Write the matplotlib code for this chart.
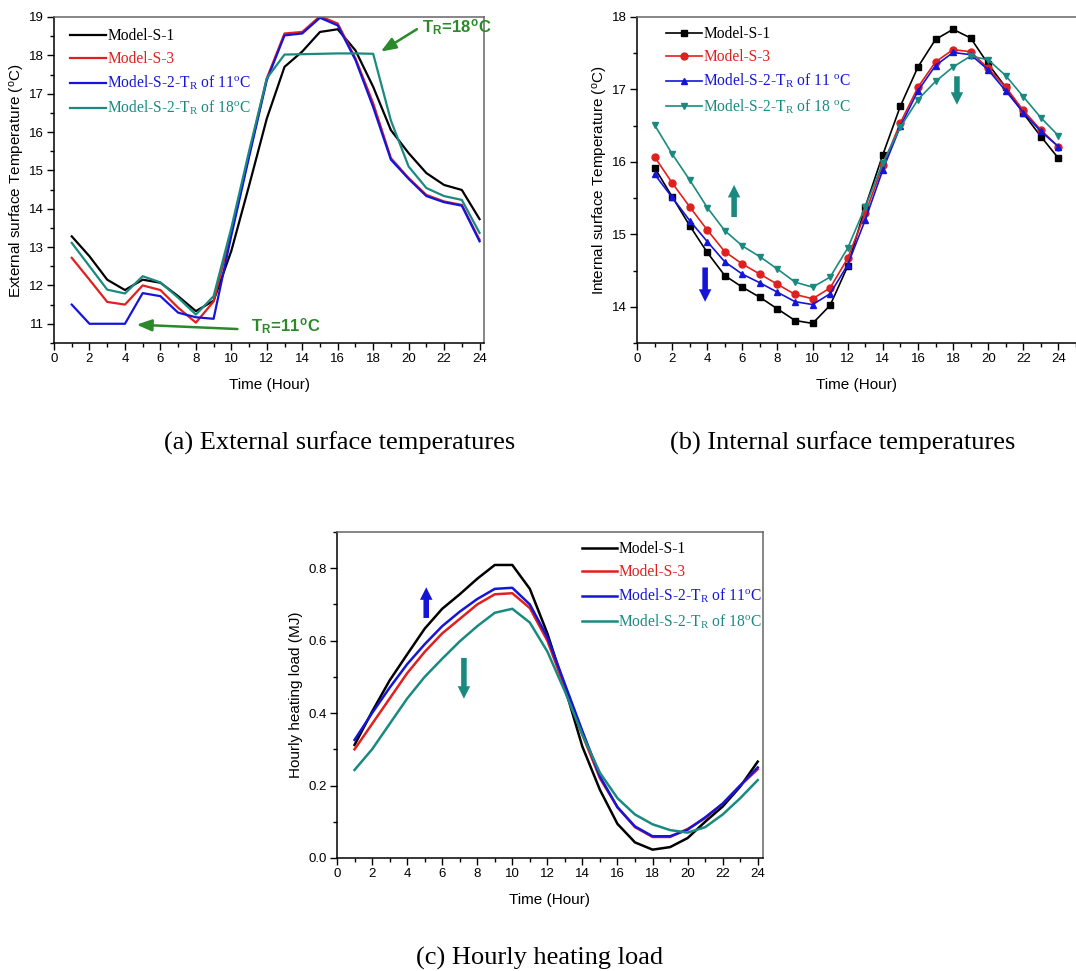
import numpy as np
import matplotlib
matplotlib.use('Agg')
import matplotlib.pyplot as plt
from matplotlib.ticker import MultipleLocator

plt.rcParams['font.family'] = ['Liberation Sans', 'DejaVu Sans']
plt.rcParams['mathtext.fontset'] = 'stix'

hours = np.arange(1, 25)

# (a) external surface temperature (degC)
ext_s1 = [13.28, 12.76, 12.15, 11.88, 12.15, 12.07, 11.72, 11.33, 11.6, 12.9, 14.6, 16.35,
          17.7, 18.1, 18.61, 18.68, 18.13, 17.18, 16.05, 15.45, 14.93, 14.62, 14.49, 13.73]
ext_s3 = [12.72, 12.15, 11.57, 11.5, 12.0, 11.88, 11.42, 11.03, 11.58, 13.4, 15.4, 17.4,
          18.57, 18.61, 19.02, 18.83, 17.92, 16.75, 15.32, 14.8, 14.36, 14.19, 14.1, 13.19]
ext_s2_11 = [11.5, 11.0, 11.0, 11.0, 11.8, 11.72, 11.29, 11.17, 11.13, 13.3, 15.35, 17.35,
             18.52, 18.57, 18.98, 18.78, 17.88, 16.65, 15.28, 14.78, 14.33, 14.17, 14.08, 13.15]
ext_s2_18 = [13.11, 12.5, 11.89, 11.79, 12.24, 12.08, 11.68, 11.24, 11.72, 13.5, 15.5, 17.4,
             18.02, 18.03, 18.04, 18.05, 18.05, 18.04, 16.3, 15.1, 14.54, 14.33, 14.23, 13.37]

# (b) internal surface temperature (degC)
int_s1 = [15.92, 15.52, 15.12, 14.75, 14.43, 14.27, 14.13, 13.97, 13.81, 13.77, 14.02, 14.56,
          15.38, 16.1, 16.77, 17.31, 17.69, 17.83, 17.71, 17.35, 17.03, 16.67, 16.35, 16.05]
int_s3 = [16.07, 15.71, 15.38, 15.06, 14.76, 14.59, 14.45, 14.31, 14.17, 14.11, 14.26, 14.67,
          15.29, 15.95, 16.54, 17.03, 17.38, 17.55, 17.52, 17.29, 17.03, 16.71, 16.44, 16.21]
int_s2_11 = [15.83, 15.51, 15.19, 14.9, 14.62, 14.45, 14.33, 14.2, 14.07, 14.03, 14.18, 14.58,
             15.2, 15.89, 16.49, 16.98, 17.33, 17.51, 17.48, 17.27, 16.98, 16.68, 16.42, 16.21]
int_s2_18 = [16.51, 16.11, 15.75, 15.37, 15.05, 14.84, 14.69, 14.52, 14.34, 14.27, 14.41, 14.81,
             15.38, 15.99, 16.48, 16.86, 17.11, 17.31, 17.46, 17.41, 17.19, 16.9, 16.61, 16.36]

# (c) hourly heating load (MJ)
load_s1 = [0.312, 0.404, 0.49, 0.562, 0.633, 0.688, 0.728, 0.771, 0.809, 0.809, 0.743, 0.62,
           0.47, 0.307, 0.188, 0.094, 0.043, 0.023, 0.03, 0.055, 0.1, 0.142, 0.197, 0.266]
load_s3 = [0.3, 0.37, 0.44, 0.51, 0.569, 0.62, 0.66, 0.7, 0.728, 0.731, 0.69, 0.6,
           0.47, 0.34, 0.22, 0.14, 0.085, 0.058, 0.058, 0.08, 0.11, 0.15, 0.2, 0.245]
load_s2_11 = [0.326, 0.4, 0.47, 0.535, 0.59, 0.64, 0.68, 0.715, 0.743, 0.746, 0.7, 0.61,
              0.48, 0.35, 0.225, 0.14, 0.087, 0.06, 0.06, 0.078, 0.112, 0.15, 0.2, 0.25]
load_s2_18 = [0.243, 0.3, 0.37, 0.44, 0.5, 0.55, 0.598, 0.64, 0.677, 0.688, 0.65, 0.57,
              0.46, 0.34, 0.235, 0.165, 0.12, 0.093, 0.077, 0.07, 0.085, 0.12, 0.165, 0.215]

colors = ['#000000', '#e0201e', '#1515d8', '#1a8a80']
green = '#2a8a2a'
labels_a = ['Model-S-1', 'Model-S-3',
            r'Model-S-2-T$_{\mathregular{R}}$ of 11$^{\mathregular{o}}$C',
            r'Model-S-2-T$_{\mathregular{R}}$ of 18$^{\mathregular{o}}$C']
labels_b = ['Model-S-1', 'Model-S-3',
            r'Model-S-2-T$_{\mathregular{R}}$ of 11 $^{\mathregular{o}}$C',
            r'Model-S-2-T$_{\mathregular{R}}$ of 18 $^{\mathregular{o}}$C']
markers = ['s', 'o', '^', 'v']

serif = ['Liberation Serif', 'DejaVu Serif']


def style_axes(ax, xmax, ymin, ymax, ymaj, ymin_step):
    ax.set_xlim(0, xmax)
    ax.set_ylim(ymin, ymax)
    ax.xaxis.set_major_locator(MultipleLocator(2))
    ax.xaxis.set_minor_locator(MultipleLocator(1))
    ax.yaxis.set_major_locator(MultipleLocator(ymaj))
    ax.yaxis.set_minor_locator(MultipleLocator(ymin_step))
    ax.tick_params(which='both', direction='out', labelsize=9.5, width=1, pad=2.5)
    ax.tick_params(which='major', length=5)
    ax.tick_params(which='minor', length=3)
    for s in ['top', 'right']:
        ax.spines[s].set_color('#666666')
    for s in ax.spines.values():
        s.set_linewidth(1.1)
    ax.set_xlabel('Time (Hour)', fontsize=11, labelpad=9)


def legend(ax, loc, anchor, hl):
    leg = ax.legend(loc=loc, bbox_to_anchor=anchor, frameon=False,
                    prop={'family': serif, 'size': 11.2}, handlelength=hl,
                    handletextpad=0.1, labelspacing=0.45, borderaxespad=0.2)
    for t, c in zip(leg.get_texts(), colors):
        t.set_color(c)


fig = plt.figure(figsize=(10.76, 9.71), dpi=100)

# ---- (a)
ax1 = fig.add_axes([0.0502, 0.6468, 0.3996, 0.3357])
for y, c, l in zip([ext_s1, ext_s3, ext_s2_11, ext_s2_18], colors, labels_a):
    ax1.plot(hours, y, color=c, lw=1.6, label=l)
style_axes(ax1, 24.25, 10.5, 19, 1, 0.5)
ax1.set_ylabel(r'External surface Temperature ($^{\mathregular{o}}$C)', fontsize=11, labelpad=1)
legend(ax1, 'upper left', (0.015, 0.995), 2.3)
ax1.annotate('', xy=(18.3, 18.06), xytext=(20.6, 18.72),
             arrowprops=dict(arrowstyle='-|>,head_length=0.9,head_width=0.35',
                             color=green, lw=1.8))
ax1.text(20.75, 18.72, r'T$_{\mathregular{R}}$=18$^{\mathregular{o}}$C', color=green,
         fontsize=12, fontweight='bold', va='center', ha='left')
ax1.annotate('', xy=(4.5, 10.98), xytext=(10.5, 10.86),
             arrowprops=dict(arrowstyle='-|>,head_length=0.9,head_width=0.35',
                             color=green, lw=1.8))
ax1.text(11.1, 10.91, r'T$_{\mathregular{R}}$=11$^{\mathregular{o}}$C', color=green,
         fontsize=12, fontweight='bold', va='center', ha='left')

# ---- (b)
ax2 = fig.add_axes([0.592, 0.6468, 0.408, 0.3357])
for y, c, l, m in zip([int_s1, int_s3, int_s2_11, int_s2_18], colors, labels_b, markers):
    ax2.plot(hours, y, color=c, lw=1.2, marker=m, ms=5, label=l)
style_axes(ax2, 25, 13.5, 18, 1, 0.5)
ax2.spines['right'].set_visible(False)
ax2.set_ylabel(r'Internal surface Temperature ($^{\mathregular{o}}$C)', fontsize=11, labelpad=1)
legend(ax2, 'upper left', (0.045, 1.0), 2.3)
block = 'simple,head_width=0.9,head_length=0.9,tail_width=0.4'
ax2.annotate('', xy=(5.53, 15.72), xytext=(5.53, 15.2),
             arrowprops=dict(arrowstyle=block, color=colors[3], lw=0))
ax2.annotate('', xy=(3.88, 14.03), xytext=(3.88, 14.58),
             arrowprops=dict(arrowstyle=block, color=colors[2], lw=0))
ax2.annotate('', xy=(18.22, 16.75), xytext=(18.22, 17.22),
             arrowprops=dict(arrowstyle=block, color=colors[3], lw=0))

# ---- (c)
ax3 = fig.add_axes([0.3132, 0.1164, 0.3959, 0.3357])
for y, c, l in zip([load_s1, load_s3, load_s2_11, load_s2_18], colors, labels_a):
    ax3.plot(hours, y, color=c, lw=1.8, label=l)
style_axes(ax3, 24.3, 0, 0.9, 0.2, 0.1)
ax3.yaxis.set_major_formatter(matplotlib.ticker.FormatStrFormatter('%.1f'))
ax3.set_ylabel('Hourly heating load (MJ)', fontsize=11, labelpad=4)
legend(ax3, 'upper right', (1.02, 1.0), 2.2)
ax3.annotate('', xy=(5.09, 0.755), xytext=(5.09, 0.655),
             arrowprops=dict(arrowstyle=block, color=colors[2], lw=0))
ax3.annotate('', xy=(7.24, 0.432), xytext=(7.24, 0.56),
             arrowprops=dict(arrowstyle=block, color=colors[3], lw=0))

# captions
fig.text(340 / 1076, 1 - 443 / 971, '(a) External surface temperatures',
         family=serif, fontsize=19, ha='center', va='center')
fig.text(843 / 1076, 1 - 443 / 971, '(b) Internal surface temperatures',
         family=serif, fontsize=19, ha='center', va='center')
fig.text(540 / 1076, 1 - 958 / 971, '(c) Hourly heating load',
         family=serif, fontsize=19, ha='center', va='center')

fig.savefig('out.png', dpi=100)
